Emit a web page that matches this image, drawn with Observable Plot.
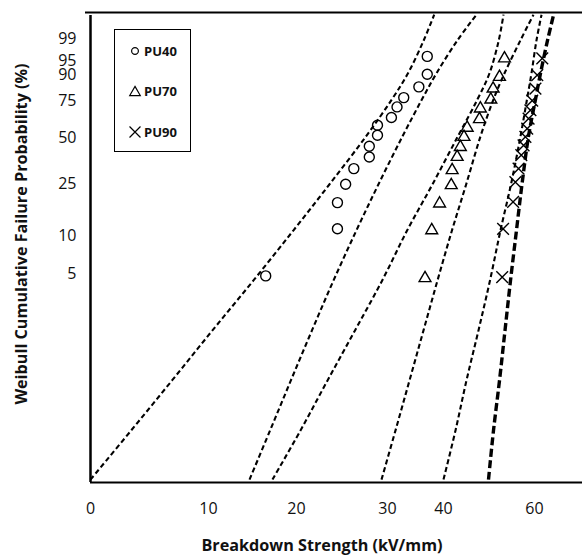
<!DOCTYPE html>
<html><head><meta charset="utf-8">
<script src="https://cdn.jsdelivr.net/npm/d3@7"></script>
<script src="https://cdn.jsdelivr.net/npm/@observablehq/plot@0.6"></script>
<style>
html,body{margin:0;padding:0;background:#fff;}
#wrap{position:relative;width:582px;height:558px;font-family:"Open Sans",sans-serif;}
#legend{position:absolute;left:114px;top:29px;width:77px;height:123px;border:1px solid #000;box-sizing:border-box;background:#fff;}
#legend svg{display:block;}
</style></head><body><div id="wrap"></div>
<script>
// ---- data ----
const xTicks = [0, 10, 20, 30, 40, 60];
const yTicks = [5, 10, 25, 50, 75, 90, 95, 99];
const seriesNames = ["PU40", "PU70", "PU90"];

const pu40Strength = [37.1, 37.1, 35.6, 32.9, 31.7, 30.7, 28.9, 28.9, 28.0, 28.0, 26.3, 25.4, 24.5, 24.5, 16.5];
const pu40Prob     = [96.2, 90.2, 83.9, 77.4, 71.2, 63.8, 58.4, 51.5, 44.4, 38.0, 31.8, 24.7, 18.1, 11.4, 4.8];
const pu70Strength = [53.4, 52.3, 50.9, 50.4, 48.1, 47.9, 45.2, 44.5, 43.7, 43.0, 41.9, 41.7, 39.3, 37.9, 36.7];
const pu70Prob     = [95.7, 89.0, 82.9, 76.1, 70.1, 62.6, 56.6, 50.4, 43.9, 38.0, 31.0, 24.3, 17.8, 11.1, 4.6];
const pu90Strength = [61.7, 60.6, 60.2, 59.5, 59.1, 58.7, 58.4, 58.0, 57.6, 57.1, 56.5, 55.8, 55.3, 53.1, 52.9];
const pu90Prob     = [95.7, 89.8, 82.9, 75.5, 68.9, 63.1, 56.1, 50.4, 45.0, 39.0, 31.8, 25.6, 18.3, 11.4, 4.7];

// dashed bound curves: strength at each cumulative probability
const curveProb  = [0.1, 0.256, 0.664, 1.72, 4.41, 11.1, 24.7, 50.8, 76.3, 90.65, 98.84, 99.93];
const pu40Lower  = [0, 3.45, 6.91, 10.45, 15.11, 19.66, 23.63, 27.64, 30.79, 33.66, 36.48, 38.34];
const pu40Upper  = [14.66, 17.0, 19.36, 21.70, 24.07, 26.59, 29.01, 32.68, 36.16, 38.75, 43.08, 47.25];
const pu70Lower  = [17.27, 20.44, 23.41, 26.43, 29.42, 33.52, 38.04, 43.16, 47.47, 50.11, 52.15, 53.19];
const pu70Upper  = [29.34, 31.43, 33.93, 36.43, 38.93, 41.87, 44.99, 48.13, 50.99, 53.41, 56.92, 59.78];
const pu90Lower  = [40.0, 42.64, 45.05, 47.69, 50.22, 52.53, 54.84, 56.92, 58.35, 59.34, 60.44, 61.54];
const pu90Upper  = [49.89, 50.99, 52.31, 53.52, 54.73, 56.04, 57.25, 58.68, 60.22, 61.32, 62.86, 64.18];

const probRange = [0.0946, 99.9485];   // bottom / top of the plotting area (%)
// x axis label positions in the original are unevenly spaced: piecewise scale
const xDomain = [0, 10, 20, 30, 40, 60, 70.5];
const xRange  = [90, 208, 296, 387, 443, 534, 582];

// ---- build ----
const W = p => Math.log(-Math.log(1 - p / 100));
const toPts = (s, p, name) => s.map((v, i) => ({s: v, p: p[i], name}));
const pts40 = toPts(pu40Strength, pu40Prob, "PU40");
const pts70 = toPts(pu70Strength, pu70Prob, "PU70");
const pts90 = toPts(pu90Strength, pu90Prob, "PU90");
const thin = [["a", pu40Lower], ["b", pu40Upper], ["c", pu70Lower], ["d", pu70Upper], ["e", pu90Lower]]
  .flatMap(([id, arr]) => arr.map((v, i) => ({id, s: v, p: curveProb[i]})));
const thick = pu90Upper.map((v, i) => ({id: "f", s: v, p: curveProb[i]}));

const yDom = probRange.map(W);

const chart = Plot.plot({
  width: 582, height: 558,
  marginLeft: 90, marginRight: 0, marginTop: 12, marginBottom: 76,
  style: {fontFamily: "'Open Sans', sans-serif", fontSize: "16px", color: "#111", background: "#fff"},
  x: {type: "linear", domain: xDomain, range: xRange, ticks: xTicks, tickSize: 0, tickPadding: 20, tickFormat: d => String(d), label: null},
  y: {type: "linear", domain: yDom, ticks: yTicks.map(W), tickSize: 0, tickPadding: 14,
      tickFormat: w => String(Math.round((1 - Math.exp(-Math.exp(w))) * 100)), label: null},
  marks: [
    Plot.line(thin, {x: "s", y: d => W(d.p), z: "id", stroke: "#000", strokeWidth: 2.1, strokeDasharray: "5,3", strokeLinecap: "butt", curve: "catmull-rom"}),
    Plot.line(thick, {x: "s", y: d => W(d.p), z: "id", stroke: "#000", strokeWidth: 3.4, strokeDasharray: "8,3.5", strokeLinecap: "butt", curve: "catmull-rom"}),
    Plot.dot(pts40, {x: "s", y: d => W(d.p), symbol: "circle", r: 5, stroke: "#000", fill: "none", strokeWidth: 1.4}),
    Plot.dot(pts70, {x: "s", y: d => W(d.p), symbol: "triangle", r: 4.4, stroke: "#000", fill: "none", strokeWidth: 1.4}),
    Plot.dot(pts90, {x: "s", y: d => W(d.p), symbol: "times", r: 5.4, stroke: "#000", strokeWidth: 1.4}),
    Plot.ruleX([xDomain[0]], {stroke: "#000", strokeWidth: 2.5, insetTop: 3}),
    Plot.ruleY([yDom[0]], {stroke: "#000", strokeWidth: 2}),
    Plot.ruleY([yDom[1]], {stroke: "#000", strokeWidth: 2.2, insetLeft: -5}),
    Plot.text(["Breakdown Strength (kV/mm)"], {frameAnchor: "bottom", dx: -14.5, dy: 68, fontWeight: "bold", fontSize: 16.2, fill: "#111"}),
    Plot.text(["Weibull Cumulative Failure Probability (%)"], {frameAnchor: "left", textAnchor: "middle", rotate: -90, dx: -69, dy: -13.5, fontWeight: "bold", fontSize: 16.2, fill: "#111"})
  ]
});
const wrap = document.getElementById("wrap");
wrap.appendChild(chart);

// legend
const leg = document.createElement("div");
leg.id = "legend";
wrap.appendChild(leg);
const lsvg = d3.select(leg).append("svg").attr("width", 75).attr("height", 121);
const symbolsFor = {PU40: d3.symbolCircle, PU70: d3.symbolTriangle, PU90: d3.symbolTimes};
const sizesFor = {PU40: 36, PU70: 48, PU90: 80};
seriesNames.forEach((name, i) => {
  const cy = 21 + i * 40.5;
  lsvg.append("path").attr("d", d3.symbol(symbolsFor[name], sizesFor[name])())
    .attr("transform", `translate(20,${cy + (name === "PU70" ? 1 : 0)})`)
    .attr("fill", "none").attr("stroke", "#000").attr("stroke-width", 1.2);
  lsvg.append("text").attr("x", 29).attr("y", cy).attr("dy", "0.35em")
    .attr("font-size", 13).attr("font-weight", "bold").attr("fill", "#111")
    .attr("font-family", "'Open Sans', sans-serif").text(name);
});
</script>
</body></html>
